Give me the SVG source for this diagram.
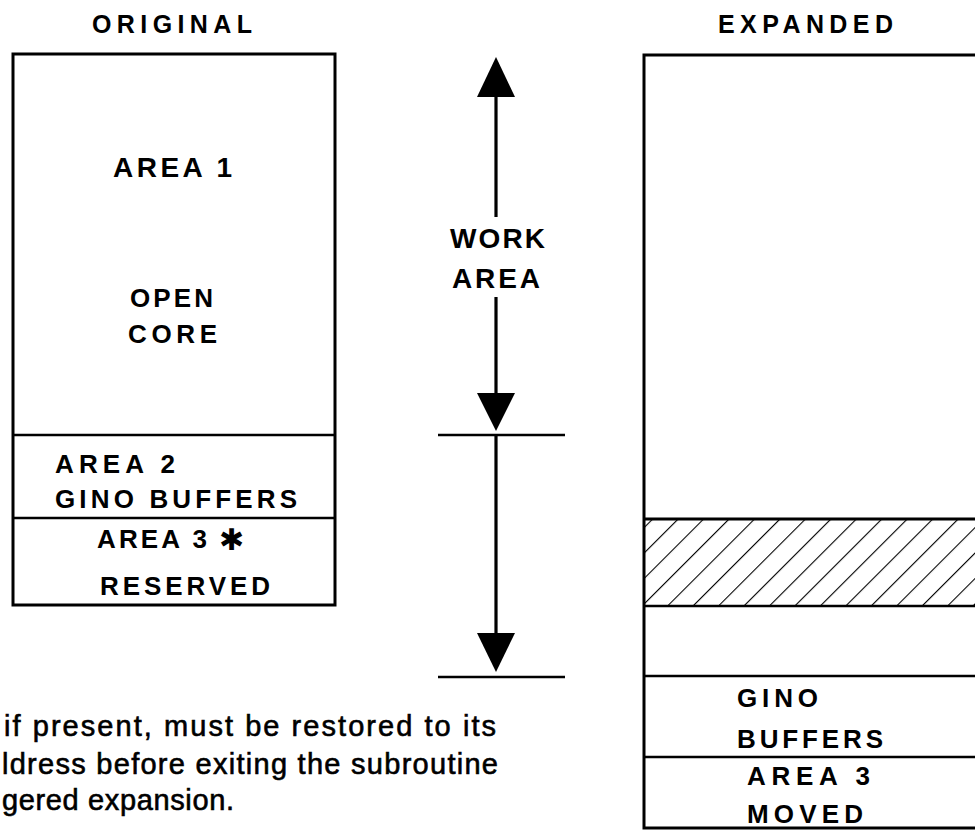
<svg xmlns="http://www.w3.org/2000/svg" width="975" height="838" viewBox="0 0 975 838">
<style>
.box{fill:none;stroke:#000;stroke-width:3}
.div{stroke:#000;stroke-width:2.5}
.lbl{font-family:"Liberation Sans",Arial,sans-serif;font-size:26px;font-weight:bold;fill:#000}
.big{font-size:28px}
.ttl{font-size:25px}
.note{font-family:"Liberation Sans",Arial,sans-serif;font-size:29px;fill:#000;stroke:#000;stroke-width:0.6}
.shaft{stroke:#000;stroke-width:3.2;fill:none}
.head{fill:#000}
</style>
<defs>
<pattern id="hatch" patternUnits="userSpaceOnUse" width="18" height="18" patternTransform="rotate(45)">
<line x1="0" y1="-1" x2="0" y2="19" stroke="#000" stroke-width="2.2"/>
</pattern>
</defs>
<rect width="975" height="838" fill="#fff"/>

<g id="original">
<text class="lbl ttl" x="92" y="33" textLength="160" lengthAdjust="spacing">ORIGINAL</text>
<rect class="box" x="13" y="54" width="322" height="551"/>
<line class="div" x1="13" y1="435" x2="335" y2="435"/>
<line class="div" x1="13" y1="518" x2="335" y2="518"/>
</g>
<g id="area1">
<text class="lbl big" x="113" y="177" textLength="119" lengthAdjust="spacing">AREA 1</text>
<text class="lbl" x="130" y="307" textLength="83" lengthAdjust="spacing">OPEN</text>
<text class="lbl" x="128" y="343" textLength="89" lengthAdjust="spacing">CORE</text>
</g>
<g id="area2">
<text class="lbl" x="55" y="473" textLength="120" lengthAdjust="spacing">AREA 2</text>
<text class="lbl" x="55" y="508" textLength="242" lengthAdjust="spacing">GINO BUFFERS</text>
</g>
<g id="area3">
<text class="lbl" x="97" y="548" textLength="110" lengthAdjust="spacing">AREA 3</text>
<text x="219" y="550" font-family="DejaVu Sans,sans-serif" font-size="30" fill="#000">✱</text>
<text class="lbl" x="100" y="595" textLength="170" lengthAdjust="spacing">RESERVED</text>
</g>

<g id="work-area">
<text class="lbl big" x="450" y="248" textLength="95" lengthAdjust="spacing">WORK</text>
<text class="lbl big" x="452" y="288" textLength="88" lengthAdjust="spacing">AREA</text>
</g>

<g id="connectors">
<line class="shaft" x1="496" y1="95" x2="496" y2="217"/>
<polygon class="head" points="496,57 477,97 515,97"/>
<line class="shaft" x1="496" y1="297" x2="496" y2="395"/>
<polygon class="head" points="496,431 477,393 515,393"/>
<line class="div" x1="438" y1="435" x2="565" y2="435"/>
<line class="shaft" x1="496" y1="435" x2="496" y2="635"/>
<polygon class="head" points="496,672 477,633 515,633"/>
<line class="div" x1="438" y1="677" x2="565" y2="677"/>
</g>

<g id="expanded">
<text class="lbl ttl" x="718" y="33" textLength="175" lengthAdjust="spacing">EXPANDED</text>
<rect x="644" y="519" width="340" height="87" fill="url(#hatch)"/>
<rect class="box" x="644" y="55" width="340" height="773"/>
<line class="box" x1="644" y1="519" x2="984" y2="519"/>
<line class="div" x1="644" y1="606" x2="984" y2="606"/>
<line class="div" x1="644" y1="676" x2="984" y2="676"/>
<line class="div" x1="644" y1="757" x2="984" y2="757"/>
</g>
<g id="gino-moved">
<text class="lbl" x="737" y="707" textLength="81" lengthAdjust="spacing">GINO</text>
<text class="lbl" x="737" y="748" textLength="146" lengthAdjust="spacing">BUFFERS</text>
</g>
<g id="area3-moved">
<text class="lbl" x="747" y="785" textLength="123" lengthAdjust="spacing">AREA 3</text>
<text class="lbl" x="747" y="823" textLength="116" lengthAdjust="spacing">MOVED</text>
</g>

<g id="footnote">
<text class="note" x="4" y="736" textLength="492" lengthAdjust="spacing">if present, must be restored to its</text>
<text class="note" x="2" y="774" textLength="496" lengthAdjust="spacing">ldress before exiting the subroutine</text>
<text class="note" x="2" y="810" textLength="232" lengthAdjust="spacing">gered expansion.</text>
</g>
</svg>
